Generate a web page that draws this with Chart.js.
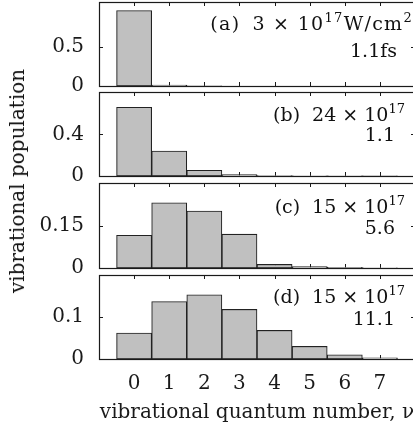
<!DOCTYPE html>
<html>
<head>
<meta charset="utf-8">
<script src="https://cdn.jsdelivr.net/npm/chart.js@4.4.0/dist/chart.umd.min.js"></script>
<style>
  html, body { margin: 0; padding: 0; background: #fff; overflow: hidden; }
  #wrap { position: relative; width: 413px; height: 434px; overflow: hidden; font-family: 'DejaVu Serif', serif; color: #111; }
  canvas { position: absolute; left: 0; }
  .note { position: absolute; white-space: nowrap; font-size: 19px; line-height: 19px; }
  .note sup { font-size: 13px; vertical-align: 8px; line-height: 0; }
  .note .tag { margin-right: 12px; }
  .note.wide { letter-spacing: 1.3px; }
  #ytitle { position: absolute; left: 17px; top: 181px; transform: translate(-50%, -50%) rotate(-90deg); font-size: 20px; white-space: nowrap; }
</style>
</head>
<body>
<div id="wrap">
  <canvas id="pa" width="425" height="100" style="top:0px"></canvas>
  <canvas id="pb" width="425" height="100" style="top:90px"></canvas>
  <canvas id="pc" width="425" height="101" style="top:181px"></canvas>
  <canvas id="pd" width="425" height="161" style="top:273px"></canvas>

  <div class="note wide" style="right:0px; top:14px"><span class="tag">(a)</span>3 × 10<sup>17</sup>W/cm<sup>2</sup></div>
  <div class="note" style="right:16px; top:41px">1.1fs</div>
  <div class="note" style="right:8px; top:105px"><span class="tag">(b)</span>24 × 10<sup>17</sup></div>
  <div class="note" style="right:18px; top:125px">1.1</div>
  <div class="note" style="right:8px; top:197px"><span class="tag">(c)</span>15 × 10<sup>17</sup></div>
  <div class="note" style="right:18px; top:218px">5.6</div>
  <div class="note" style="right:8px; top:287px"><span class="tag">(d)</span>15 × 10<sup>17</sup></div>
  <div class="note" style="right:18px; top:309px">11.1</div>

  <div id="ytitle">vibrational population</div>
</div>
<script>
const levels = [0, 1, 2, 3, 4, 5, 6, 7]

const popA = [0.97, 0.012, 0.001, 0, 0, 0, 0, 0]
const popB = [0.659, 0.24, 0.055, 0.013, 0.004, 0.002, 0.001, 0.0005]
const popC = [0.117, 0.233, 0.204, 0.121, 0.013, 0.005, 0.002, 0.001]
const popD = [0.062, 0.137, 0.153, 0.118, 0.068, 0.030, 0.010, 0.003]

const yMaxes = [1.08, 0.806, 0.304, 0.2]
const yTicks = [[0, 0.5], [0, 0.4], [0, 0.15], [0, 0.1]]

const fontFamily = "'DejaVu Serif', serif"
const ink = '#1a1a1a'

// frame with inward ticks on every side, like the original plot
const framePlugin = {
    id: 'frame',
    beforeDatasetsDraw(chart) {
        const {ctx, chartArea: a, scales: {x, y}} = chart
        ctx.save()
        ctx.strokeStyle = ink
        ctx.lineWidth = 1
        ctx.beginPath()
        x.ticks.forEach(t => {
            const px = Math.round(x.getPixelForValue(t.value)) + 0.5
            ctx.moveTo(px, a.top); ctx.lineTo(px, a.top + 4)
            ctx.moveTo(px, a.bottom); ctx.lineTo(px, a.bottom - 4)
        })
        y.ticks.forEach(t => {
            const py = Math.round(y.getPixelForValue(t.value)) + 0.5
            ctx.moveTo(a.left, py); ctx.lineTo(a.left + 4, py)
            ctx.moveTo(a.right, py); ctx.lineTo(a.right - 4, py)
        })
        ctx.stroke()
        ctx.restore()
    },
    afterDatasetsDraw(chart) {
        const {ctx, chartArea: a} = chart
        ctx.save()
        ctx.strokeStyle = ink
        ctx.lineWidth = 1.2
        ctx.strokeRect(Math.round(a.left) + 0.5, Math.round(a.top) + 0.5, Math.round(a.right - a.left), Math.round(a.bottom - a.top))
        ctx.restore()
    }
}

const makePanel = (id, values, idx, bottom) => {
    const points = levels.map((lv, i) => ({x: lv, y: values[i]}))
    return new Chart(document.getElementById(id), {
        type: 'bar',
        data: {
            datasets: [{
                data: points,
                backgroundColor: '#c0c0c0',
                borderColor: '#222',
                borderWidth: 1.1,
                borderSkipped: false,
                barPercentage: 1,
                categoryPercentage: 1
            }]
        },
        options: {
            responsive: false,
            animation: false,
            devicePixelRatio: 1,
            layout: {padding: {top: 2, bottom: bottom ? 0 : 14, left: 0, right: 10}},
            plugins: {legend: {display: false}, tooltip: {enabled: false}},
            scales: {
                x: {
                    type: 'linear',
                    min: -1,
                    max: 8,
                    offset: false,
                    display: bottom,
                    grid: {display: false, drawTicks: false},
                    border: {display: false},
                    afterBuildTicks: s => { s.ticks = levels.map(v => ({value: v})) },
                    afterFit: s => {
                        if (bottom) s.height = 75
                        s.paddingLeft = 0
                        s.paddingRight = 0
                    },
                    ticks: {
                        padding: 13,
                        color: ink,
                        autoSkip: false,
                        maxRotation: 0,
                        font: {family: fontFamily, size: 20}
                    },
                    title: {
                        display: bottom,
                        text: 'vibrational quantum number, ν',
                        color: ink,
                        padding: {top: 0, bottom: 9},
                        font: {family: fontFamily, size: 20, lineHeight: 1.2}
                    }
                },
                y: {
                    min: 0,
                    max: yMaxes[idx],
                    grid: {display: false, drawTicks: false},
                    border: {display: false},
                    afterBuildTicks: s => { s.ticks = yTicks[idx].map(v => ({value: v})) },
                    afterFit: s => {
                        s.width = 99
                        s.paddingTop = 0
                        s.paddingBottom = 0
                    },
                    ticks: {
                        padding: 15,
                        color: ink,
                        font: {family: fontFamily, size: 20},
                        callback: v => String(v)
                    }
                }
            }
        },
        plugins: [framePlugin]
    })
}

makePanel('pa', popA, 0, false)
makePanel('pb', popB, 1, false)
makePanel('pc', popC, 2, false)
makePanel('pd', popD, 3, true)
</script>
</body>
</html>
